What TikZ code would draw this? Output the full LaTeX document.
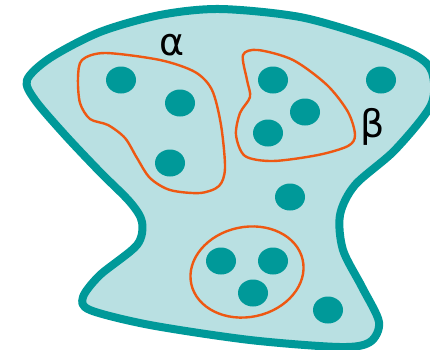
\documentclass[tikz,border=0pt]{standalone}
\usepackage{fontspec}
\setmainfont{DejaVu Sans}
\usetikzlibrary{shapes,positioning,calc}
\definecolor{setteal}{RGB}{0,153,153}
\definecolor{setfill}{RGB}{185,224,226}
\definecolor{grouporange}{RGB}{238,88,18}
\tikzset{
    outerset/.style={
        draw=setteal,
        fill=setfill,
        line width=8pt,
        line join=round
    },
    element/.style={
        ellipse,
        fill=setteal,
        minimum width=30pt,
        minimum height=27pt,
        inner sep=0pt
    },
    subset/.style={
        draw=grouporange,
        line width=2.4pt
    },
    setlabel/.style={
        font=\fontsize{38}{42}\selectfont,
        inner sep=0pt
    }
}

\begin{document}
\begin{tikzpicture}[x=1pt,y=-1pt]
        \useasboundingbox (0,0) rectangle (430,349);

        % Outer set
        \draw[outerset] plot[smooth cycle] coordinates {
            (27,80) (50,58) (100,32) (160,15) (220,9) (300,17) (370,37)
            (415,55) (432,72) (431,105) (395,150) (355,185) (340,215)
            (343,250) (362,287) (379,322) (370,342) (340,347) (250,340)
            (150,325) (90,310) (83,297) (100,275) (137,245) (142,222)
            (130,202) (100,172) (65,135) (35,100)};

        % Subsets
        \draw[subset] plot[smooth cycle] coordinates {
            (82,60) (105,53) (160,60) (195,72) (212,90) (221,125) (225,168)
            (219,186) (200,193) (170,190) (150,178) (137,158) (125,138)
            (108,125) (90,119) (80,103) (78,78)};
        \draw[subset] plot[smooth cycle] coordinates {
            (243,55) (258,50) (293,60) (327,85) (348,112) (355,135) (348,146)
            (318,155) (273,161) (245,156) (236,135) (240,113) (250,97)
            (247,80)};
        \draw[subset] (247,272) ellipse [x radius=57, y radius=45, rotate=12];

        % Elements in alpha
        \node[element] (a1) at (121,80) {};
        \node[element] (a2) at (180,103) {};
        \node[element] (a3) at (170,163) {};

        % Elements in beta
        \node[element] (b1) at (273,80) {};
        \node[element] (b2) at (305,112) {};
        \node[element] (b3) at (268,133) {};

        % Elements in the lower group
        \node[element] (c1) at (221,261) {};
        \node[element] (c2) at (273,261) {};
        \node[element] (c3) at (253,293) {};

        % Single elements
        \node[element] (e1) at (381,80) {};
        \node[element] (e2) at (290,197) {};
        \node[element] (e3) at (328,310) {};

        % Labels
        \node[setlabel] (alpha) at (172,45) {α};
        \node[setlabel] (beta) at (373,127) {β};
    \end{tikzpicture}
\end{document}
